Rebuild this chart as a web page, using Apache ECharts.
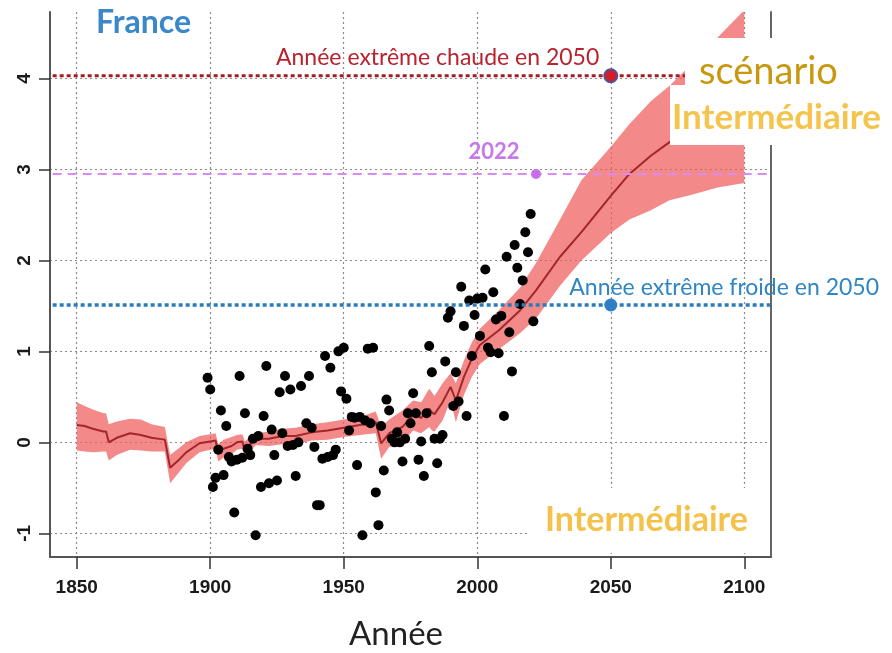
<!DOCTYPE html>
<html>
<head>
<meta charset="utf-8">
<script src="https://cdn.jsdelivr.net/npm/echarts@6/dist/echarts.min.js"></script>
<style>
  html, body { margin: 0; padding: 0; background: #fff; }
  #chart { width: 892px; height: 653px; }
</style>
</head>
<body>
<div id="chart"></div>
<script>
// Axis ticks
const xTicks = [1850, 1900, 1950, 2000, 2050, 2100];
const yTicks = [-1, 0, 1, 2, 3, 4];

// Reconstructed + projected warming (median and uncertainty envelope)
const bandYears = [1850, 1853, 1856, 1860, 1861, 1862, 1865, 1870, 1874, 1878,
  1883, 1885, 1888, 1891, 1896, 1900, 1902, 1903, 1905, 1908,
  1910, 1912, 1913, 1915, 1917, 1922, 1927, 1932, 1938, 1944,
  1950, 1956, 1962, 1964, 1967, 1972, 1976, 1979, 1982, 1983,
  1984, 1987, 1990, 1992, 1995, 1998, 2001, 2008, 2016, 2022,
  2031, 2039, 2050, 2057, 2065, 2072, 2080, 2090, 2100];
const bandMean = [0.19, 0.18, 0.15, 0.12, 0.12, 0.00, 0.05, 0.10, 0.08, 0.05,
  0.03, -0.28, -0.20, -0.11, -0.01, 0.01, 0.02, -0.11, -0.07, -0.04,
  0.00, 0.01, -0.09, -0.02, 0.04, 0.04, 0.07, 0.07, 0.11, 0.13,
  0.16, 0.19, 0.22, -0.01, 0.10, 0.17, 0.30, 0.27, 0.37, 0.33,
  0.31, 0.44, 0.61, 0.46, 0.72, 0.92, 1.07, 1.23, 1.45, 1.67,
  2.04, 2.31, 2.71, 2.95, 3.15, 3.30, 3.45, 3.62, 3.78];
const bandLow = [-0.09, -0.10, -0.11, -0.10, -0.10, -0.20, -0.14, -0.08, -0.09, -0.10,
  -0.10, -0.45, -0.34, -0.23, -0.11, -0.08, -0.07, -0.21, -0.17, -0.13,
  -0.08, -0.07, -0.18, -0.10, -0.03, -0.04, -0.02, -0.02, 0.02, 0.03,
  0.06, 0.08, 0.10, -0.18, -0.05, 0.00, 0.13, 0.10, 0.17, 0.13,
  0.12, 0.24, 0.46, 0.22, 0.52, 0.72, 0.86, 1.02, 1.20, 1.36,
  1.72, 2.00, 2.30, 2.45, 2.55, 2.66, 2.72, 2.80, 2.85];
const bandHigh = [0.44, 0.40, 0.36, 0.32, 0.32, 0.20, 0.23, 0.26, 0.25, 0.20,
  0.17, -0.14, -0.07, 0.00, 0.07, 0.09, 0.10, -0.02, 0.03, 0.06,
  0.08, 0.09, 0.01, 0.07, 0.10, 0.12, 0.15, 0.16, 0.20, 0.22,
  0.25, 0.28, 0.34, 0.17, 0.25, 0.35, 0.46, 0.44, 0.59, 0.55,
  0.51, 0.65, 0.76, 0.65, 0.90, 1.10, 1.25, 1.45, 1.70, 1.97,
  2.45, 2.88, 3.25, 3.50, 3.75, 3.92, 4.15, 4.45, 4.75];

// Observed annual anomalies
const obsYears = [1899, 1900, 1901, 1902, 1903, 1904, 1905, 1906, 1907, 1908,
  1909, 1910, 1911, 1912, 1913, 1914, 1915, 1916, 1917, 1918,
  1919, 1920, 1921, 1922, 1923, 1924, 1925, 1926, 1927, 1928,
  1929, 1930, 1931, 1932, 1933, 1934, 1936, 1937, 1938, 1939,
  1940, 1941, 1942, 1943, 1944, 1945, 1946, 1947, 1948, 1949,
  1950, 1951, 1952, 1953, 1954, 1955, 1956, 1957, 1958, 1959,
  1960, 1961, 1962, 1963, 1964, 1965, 1966, 1967, 1968, 1969,
  1970, 1971, 1972, 1973, 1974, 1975, 1976, 1977, 1978, 1979,
  1980, 1981, 1982, 1983, 1984, 1985, 1986, 1987, 1988, 1989,
  1990, 1991, 1992, 1993, 1994, 1995, 1996, 1997, 1998, 1999,
  2000, 2001, 2002, 2003, 2004, 2005, 2006, 2007, 2008, 2009,
  2010, 2011, 2012, 2013, 2014, 2015, 2016, 2017, 2018, 2019,
  2020, 2021];
const obsValues = [0.71, 0.58, -0.49, -0.39, -0.08, 0.35, -0.36, 0.18, -0.16, -0.21,
  -0.77, -0.19, 0.73, -0.17, 0.32, -0.07, -0.14, 0.04, -1.02, 0.07,
  -0.49, 0.29, 0.84, -0.45, 0.14, -0.14, -0.42, 0.55, 0.10, 0.73,
  -0.04, 0.58, -0.03, -0.37, 0.00, 0.62, 0.21, 0.73, 0.16, -0.05,
  -0.69, -0.69, -0.18, 0.95, -0.16, 0.82, -0.14, -0.08, 1.00, 0.56,
  1.04, 0.48, 0.13, 0.28, 0.27, -0.25, 0.28, -1.02, 0.24, 1.03,
  0.21, 1.04, -0.55, -0.91, 0.18, -0.31, 0.47, 0.35, 0.04, 0.00,
  0.11, 0.00, -0.21, 0.04, 0.32, 0.21, 0.54, 0.32, -0.19, 0.01,
  -0.37, 0.32, 1.06, 0.77, 0.04, -0.23, 0.04, 0.08, 0.89, 1.37,
  1.44, 0.40, 0.77, 0.45, 1.71, 1.28, 0.29, 1.56, 0.95, 1.40,
  1.58, 1.17, 1.59, 1.90, 1.04, 0.99, 1.65, 1.35, 0.98, 1.39,
  0.29, 2.04, 1.21, 0.78, 2.17, 1.92, 1.52, 1.78, 2.31, 2.09,
  2.51, 1.33];

// Reference years
const hotYear = 2050, hotValue = 4.03;
const year2022 = 2022, value2022 = 2.95;
const coldYear = 2050, coldValue = 1.51;

const X_MIN = 1840, X_MAX = 2110;
const Y_MIN = -1.26, Y_MAX = 4.73;
const LINE_FROM = 1841, LINE_TO = 2109.6;

const labelFont = 'Lato, "Open Sans", sans-serif';
const tickFont = '"Liberation Sans", Arial, sans-serif';

const chart = echarts.init(document.getElementById('chart'), null, { renderer: 'canvas' });

function refLine(value, color, width, dash) {
  return {
    type: 'line',
    data: [[LINE_FROM, value], [LINE_TO, value]],
    symbol: 'none',
    silent: true,
    lineStyle: { color: color, width: width, type: dash },
    z: 6
  };
}

const gridDots = { type: [2, 3], color: '#8a8a8a', width: 1.2 };

const option = {
  animation: false,
  backgroundColor: '#ffffff',
  grid: { left: 50, right: 121, top: 12, bottom: 96, containLabel: false },
  xAxis: {
    type: 'value',
    min: X_MIN,
    max: X_MAX,
    axisLine: { show: true, onZero: false, lineStyle: { color: '#555', width: 2 } },
    axisTick: { show: true, customValues: xTicks, length: 12, lineStyle: { color: '#333', width: 1.5 } },
    axisLabel: { customValues: xTicks, margin: 21, fontSize: 19, fontWeight: 'bold', color: '#1a1a1a',
      fontFamily: tickFont, formatter: v => String(v) },
    splitLine: { show: true, lineStyle: gridDots }
  },
  yAxis: [{
    type: 'value',
    min: Y_MIN,
    max: Y_MAX,
    axisLine: { show: true, onZero: false, lineStyle: { color: '#555', width: 2 } },
    axisTick: { show: true, customValues: yTicks, length: 11, lineStyle: { color: '#333', width: 1.5 } },
    axisLabel: { customValues: yTicks, rotate: 90, margin: 16, fontSize: 19, fontWeight: 'bold', color: '#1a1a1a',
      fontFamily: tickFont, formatter: v => String(v) },
    splitLine: { show: true, lineStyle: gridDots }
  }, {
    type: 'value',
    position: 'right',
    min: Y_MIN,
    max: Y_MAX,
    axisLine: { show: true, onZero: false, lineStyle: { color: '#666', width: 2 } },
    axisTick: { show: false },
    axisLabel: { show: false },
    splitLine: { show: false }
  }],
  series: [
    {
      // uncertainty envelope
      type: 'custom',
      data: [[bandYears[0], bandMean[0]]],
      silent: true,
      z: 2,
      renderItem: function (params, api) {
        const pts = [];
        for (let i = 0; i < bandYears.length; i++) pts.push(api.coord([bandYears[i], bandHigh[i]]));
        for (let i = bandYears.length - 1; i >= 0; i--) pts.push(api.coord([bandYears[i], bandLow[i]]));
        const cs = params.coordSys;
        return {
          type: 'polygon',
          shape: { points: pts },
          style: { fill: 'rgba(238, 92, 92, 0.72)' },
          clipPath: { type: 'rect', shape: { x: cs.x, y: cs.y, width: cs.width, height: cs.height } }
        };
      }
    },
    {
      type: 'line',
      data: bandYears.map((y, i) => [y, bandMean[i]]),
      symbol: 'none',
      silent: true,
      clip: true,
      lineStyle: { color: '#a3262c', width: 2 },
      z: 3
    },
    refLine(hotValue, '#a51b24', 3, [4, 3]),
    refLine(value2022, '#d88cf2', 2, [9, 6]),
    refLine(coldValue, '#2c7cba', 3.5, [4, 3]),
    {
      type: 'scatter',
      data: obsYears.map((y, i) => [y, obsValues[i]]),
      symbol: 'circle',
      symbolSize: 10,
      silent: true,
      itemStyle: { color: '#000', opacity: 1 },
      z: 5
    },
    {
      type: 'scatter',
      data: [[hotYear, hotValue]],
      symbolSize: 13,
      itemStyle: { color: '#d21c28', borderColor: '#55509a', borderWidth: 2, opacity: 1 },
      label: {
        show: true, formatter: 'Année extrême chaude en 2050',
        position: [-4, -11], align: 'right', verticalAlign: 'middle',
        fontFamily: labelFont, fontSize: 23, color: '#b8232f'
      },
      z: 8
    },
    {
      type: 'scatter',
      data: [[year2022, value2022]],
      symbolSize: 10,
      itemStyle: { color: '#c76fe8', opacity: 1 },
      label: {
        show: true, formatter: String(year2022),
        position: [-37, -17], align: 'center', verticalAlign: 'middle',
        fontFamily: labelFont, fontSize: 22, fontWeight: 'bold', color: '#c878ea'
      },
      z: 8
    },
    {
      type: 'scatter',
      data: [[coldYear, coldValue]],
      symbolSize: 13,
      itemStyle: { color: '#2f7fc6', opacity: 1 },
      label: {
        show: true, formatter: 'Année extrême froide en 2050',
        position: [-35, -11], align: 'left', verticalAlign: 'middle',
        fontFamily: labelFont, fontSize: 23, color: '#2f86c3'
      },
      z: 8
    }
  ],
  graphic: [
    { type: 'text', x: 96, y: 23, z: 100,
      style: { text: 'France', font: 'bold 32px ' + labelFont, fill: '#3a87c9', textVerticalAlign: 'middle' } },
    { type: 'rect', shape: { x: 528, y: 488, width: 241, height: 65 }, z: 100, style: { fill: '#fff' } },
    { type: 'text', x: 545, y: 520, z: 101,
      style: { text: 'Intermédiaire', font: 'bold 34px ' + labelFont, fill: '#f4c24a', textVerticalAlign: 'middle' } },
    { type: 'rect', shape: { x: 685, y: 38, width: 207, height: 48 }, z: 100, style: { fill: '#fff' } },
    { type: 'rect', shape: { x: 670, y: 85, width: 222, height: 60 }, z: 100, style: { fill: '#fff' } },
    { type: 'text', x: 699, y: 72, z: 101,
      style: { text: 'scénario', font: '38px ' + labelFont, fill: '#c8980e', textVerticalAlign: 'middle' } },
    { type: 'text', x: 672, y: 118, z: 101,
      style: { text: 'Intermédiaire', font: 'bold 35px ' + labelFont, fill: '#f4c44c', textVerticalAlign: 'middle' } },
    { type: 'text', x: 396, y: 634, z: 101,
      style: { text: 'Année', font: '33px ' + labelFont, fill: '#222', textAlign: 'center', textVerticalAlign: 'middle' } }
  ]
};

chart.setOption(option);
</script>
</body>
</html>
